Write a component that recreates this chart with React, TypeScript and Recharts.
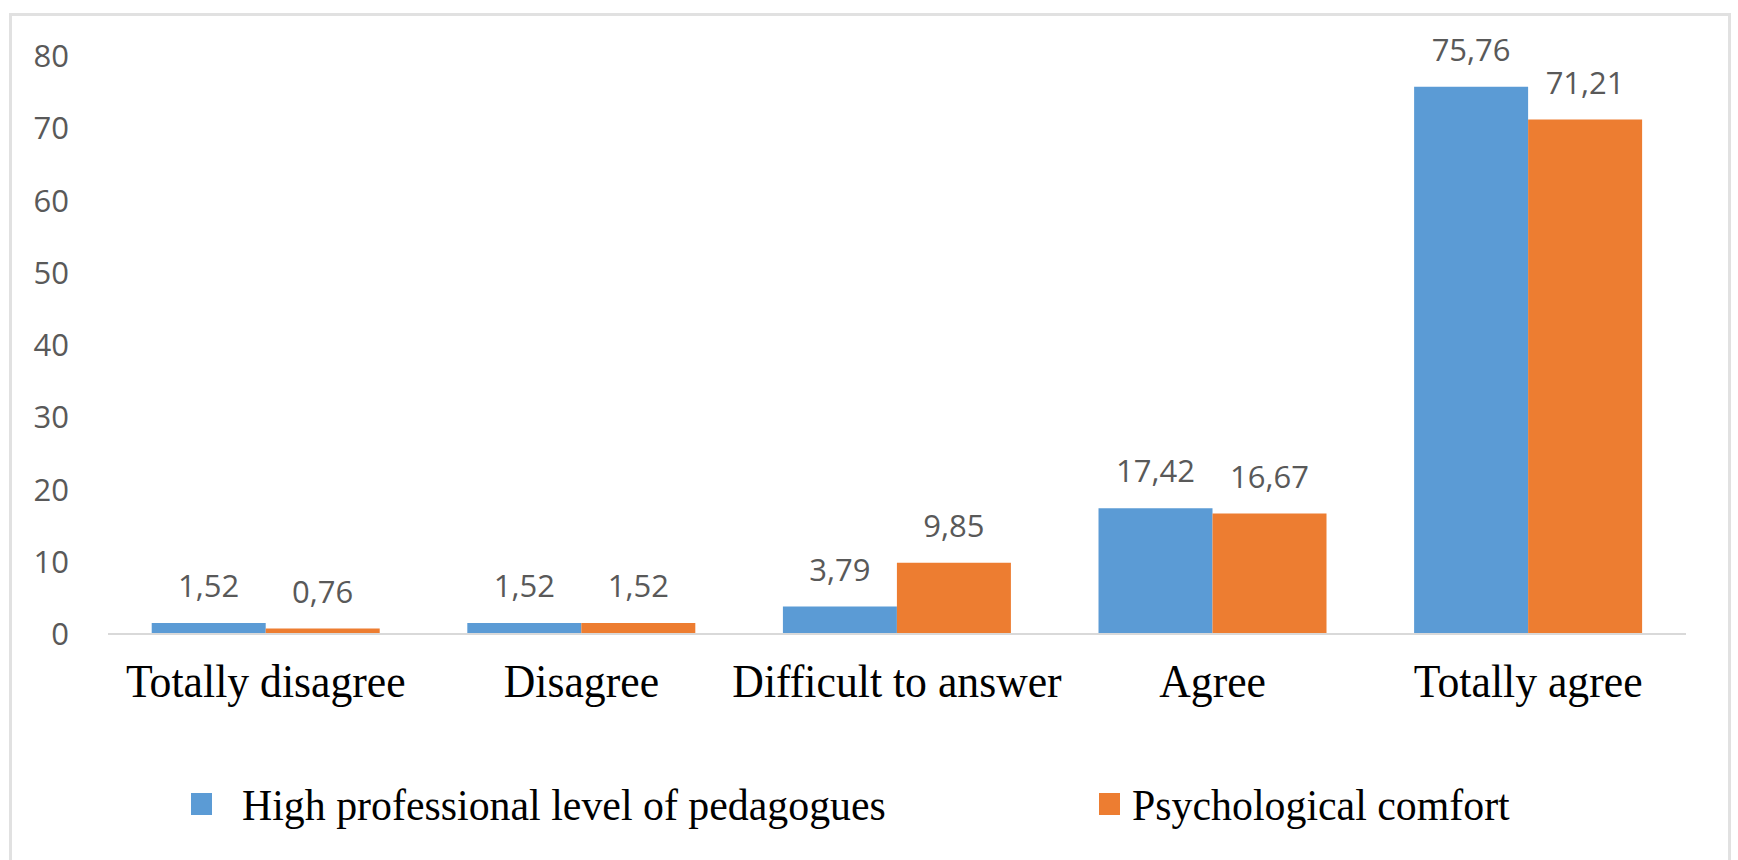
import React from "react"
import { BarChart, Bar, XAxis, YAxis, Legend, LabelList } from "recharts"

const categories = ["Totally disagree", "Disagree", "Difficult to answer", "Agree", "Totally agree"]
const professionalLevel = [1.52, 1.52, 3.79, 17.42, 75.76]
const psychologicalComfort = [0.76, 1.52, 9.85, 16.67, 71.21]
const yTicks = [0, 10, 20, 30, 40, 50, 60, 70, 80]

const SERIES = [
  { key: "professional", name: "High professional level of pedagogues", color: "#5B9BD5" },
  { key: "comfort", name: "Psychological comfort", color: "#ED7D31" },
]

const data = categories.map((category, i) => ({
  category,
  professional: professionalLevel[i],
  comfort: psychologicalComfort[i],
}))

const SANS = '"Open Sans", "Noto Sans", sans-serif'
const SERIF = '"Liberation Serif", "Times New Roman", serif'

// numbers are shown with a decimal comma
const formatValue = (value: number) => value.toFixed(2).replace(".", ",")

function CategoryTick({ x, y, payload }: any) {
  return (
    <g transform={`translate(${x},${y + 63}) scale(0.93,1)`}>
      <text x={0} y={0} textAnchor="middle" fill="#000" fontFamily={SERIF} fontSize={47}>
        {payload.value}
      </text>
    </g>
  )
}

// legend item positions follow the original layout
const LEGEND_POS = [
  { square: 191, text: 242 },
  { square: 1099, text: 1132 },
]

function ChartLegend() {
  return (
    <div style={{ position: "relative", width: 1738, height: 60 }}>
      {SERIES.map((s, i) => (
        <React.Fragment key={s.key}>
          <div
            style={{
              position: "absolute",
              left: LEGEND_POS[i].square,
              top: 19,
              width: 21,
              height: 22,
              background: s.color,
            }}
          />
          <span
            style={{
              position: "absolute",
              left: LEGEND_POS[i].text,
              top: 9,
              fontFamily: SERIF,
              fontSize: 45,
              lineHeight: "45px",
              color: "#000",
              whiteSpace: "nowrap",
              transform: "scaleX(0.93)",
              transformOrigin: "left center",
            }}
          >
            {s.name}
          </span>
        </React.Fragment>
      ))}
    </div>
  )
}

export default function App() {
  return (
    <div
      style={{
        position: "absolute",
        left: 0,
        top: 0,
        width: 1738,
        height: 860,
        overflow: "hidden",
        background: "#fff",
      }}
    >
      <div
        style={{
          position: "absolute",
          left: 9,
          top: 13,
          width: 1716,
          height: 900,
          border: "3px solid #e1e1e1",
        }}
      />
      <div style={{ position: "absolute", left: 0, top: 0 }}>
        <BarChart
          width={1738}
          height={860}
          data={data}
          margin={{ top: 56, right: 52, bottom: 66, left: 0 }}
          barCategoryGap="13.85%"
          barGap={0}
        >
          <XAxis
            dataKey="category"
            interval={0}
            height={100}
            axisLine={{ stroke: "#D9D9D9", strokeWidth: 2 }}
            tickLine={false}
            tickSize={0}
            tickMargin={0}
            tick={(props: any) => <CategoryTick {...props} />}
          />
          <YAxis
            domain={[0, 80]}
            ticks={yTicks}
            width={108}
            axisLine={false}
            tickLine={false}
            tickSize={0}
            tickMargin={39}
            tick={{ fill: "#595959", fontSize: 31, fontFamily: SANS }}
          />
          <Legend
            verticalAlign="bottom"
            content={() => <ChartLegend />}
            wrapperStyle={{ left: 0, bottom: 26, width: 1738, height: 60 }}
          />
          {SERIES.map((s) => (
            <Bar key={s.key} dataKey={s.key} name={s.name} fill={s.color} isAnimationActive={false}>
              <LabelList
                dataKey={s.key}
                position="top"
                offset={26}
                formatter={(v: any) => formatValue(Number(v))}
                fill="#595959"
                fontSize={31}
                fontFamily={SANS}
              />
            </Bar>
          ))}
        </BarChart>
      </div>
    </div>
  )
}
